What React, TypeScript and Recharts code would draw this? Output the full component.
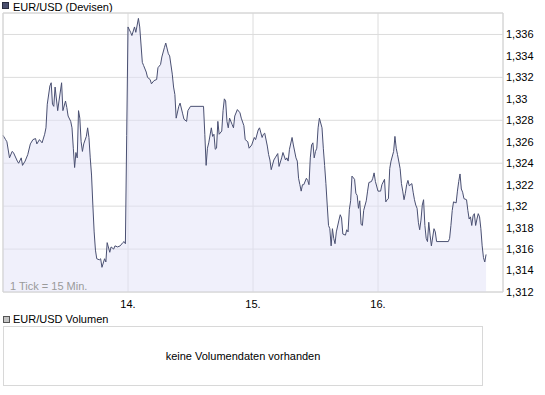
import { ComposedChart, Area, XAxis, YAxis, CartesianGrid, ReferenceArea } from 'recharts'

// [tick (1 tick = 15 min), price]
const day13: [number, number][] = [
  [0, 1.3266], [2, 1.3262], [3, 1.326], [5, 1.3245], [7, 1.3251], [8, 1.325], [11, 1.3242], [12, 1.324],
  [14, 1.3245], [15, 1.3238], [17, 1.3242], [19, 1.3248], [21, 1.3258], [23, 1.3262], [25, 1.3263], [26, 1.3258],
  [28, 1.3262], [30, 1.3259], [32, 1.3267], [33, 1.3273], [34, 1.3295], [36, 1.3312], [37, 1.3315], [38, 1.3295],
  [39, 1.3293], [40, 1.3311], [42, 1.3289], [43, 1.3298], [45, 1.3315], [46, 1.3289], [48, 1.3298], [49, 1.3292],
  [50, 1.3284], [52, 1.3279], [53, 1.3273], [54, 1.3254], [55, 1.3236], [56, 1.325], [57, 1.3245], [58, 1.3289],
  [59, 1.3282], [60, 1.326], [61, 1.3251], [62, 1.3258], [64, 1.3265], [65, 1.3273], [66, 1.3264], [67, 1.3245],
  [68, 1.3229], [69, 1.3201], [70, 1.3176], [71, 1.3159], [72, 1.3151], [74, 1.315], [75, 1.3151], [76, 1.3143],
  [78, 1.3151], [79, 1.3148], [80, 1.3166], [82, 1.3157], [83, 1.3162], [85, 1.316], [86, 1.3163], [88, 1.3162],
  [90, 1.3163], [92, 1.3166], [93, 1.3167], [94, 1.3165], [95, 1.3266],
]

const day14: [number, number][] = [
  [96, 1.3367], [98, 1.3362], [99, 1.3359], [101, 1.3367], [102, 1.3362], [104, 1.3375], [105, 1.3367], [107, 1.3334],
  [108, 1.3331], [110, 1.3325], [111, 1.332], [113, 1.3318], [114, 1.3314], [116, 1.3317], [118, 1.3318], [119, 1.3329],
  [121, 1.3332], [122, 1.3339], [124, 1.3348], [125, 1.3352], [127, 1.3342], [128, 1.334], [130, 1.3323], [131, 1.3311],
  [132, 1.3304], [133, 1.3282], [135, 1.3293], [136, 1.3296], [138, 1.3286], [139, 1.3281], [141, 1.3279], [142, 1.3289],
  [144, 1.3293], [154, 1.3293], [155, 1.3267], [156, 1.3238], [157, 1.3254], [158, 1.3259], [160, 1.3273], [161, 1.3265],
  [162, 1.3267], [163, 1.3253], [164, 1.3254], [165, 1.3279], [166, 1.3267], [168, 1.327], [169, 1.3289], [170, 1.33],
  [171, 1.3298], [172, 1.3279], [173, 1.3273], [174, 1.3282], [176, 1.3276], [177, 1.3273], [178, 1.3284], [180, 1.329],
  [182, 1.3287], [183, 1.3282], [185, 1.3275], [186, 1.3262], [188, 1.326], [189, 1.3254], [191, 1.3257],
]

const day15: [number, number][] = [
  [193, 1.3264], [194, 1.3262], [196, 1.3271], [197, 1.3273], [199, 1.3264], [200, 1.3267], [201, 1.3268], [203, 1.3256],
  [204, 1.3248], [205, 1.3243], [206, 1.3234], [208, 1.3243], [209, 1.3245], [211, 1.3249], [212, 1.3237], [214, 1.3245],
  [215, 1.325], [217, 1.3243], [218, 1.3245], [219, 1.3242], [220, 1.3253], [222, 1.3264], [223, 1.3257], [225, 1.3245],
  [226, 1.3242], [227, 1.3226], [228, 1.322], [229, 1.3214], [230, 1.322], [231, 1.322], [233, 1.3226], [234, 1.3224],
  [235, 1.322], [236, 1.3245], [237, 1.3257], [238, 1.3259], [239, 1.3245], [240, 1.3251], [241, 1.3254], [242, 1.3273],
  [243, 1.3282], [245, 1.3273], [246, 1.3254], [247, 1.3238], [248, 1.3221], [249, 1.3201], [250, 1.3182], [251, 1.3179],
  [252, 1.3163], [253, 1.3179], [254, 1.317], [255, 1.3165], [256, 1.3176], [258, 1.3187], [259, 1.3192], [260, 1.3189],
  [261, 1.3174], [263, 1.3173], [264, 1.3178], [265, 1.3176], [266, 1.3197], [267, 1.3205], [268, 1.3228], [270, 1.3225],
  [271, 1.3212], [272, 1.321], [273, 1.3198], [274, 1.3205], [275, 1.3183], [276, 1.3182], [277, 1.3196], [279, 1.3205],
  [280, 1.3214], [281, 1.3222], [283, 1.3223], [284, 1.3226], [285, 1.3231], [286, 1.3223],
]

const day16: [number, number][] = [
  [288, 1.3214], [290, 1.3214], [291, 1.322], [293, 1.3225], [294, 1.3204], [295, 1.3206], [296, 1.3207], [297, 1.3235],
  [298, 1.3242], [300, 1.3251], [301, 1.3265], [302, 1.3254], [303, 1.3248], [305, 1.3235], [306, 1.3221], [307, 1.3214],
  [308, 1.3206], [309, 1.3212], [310, 1.322], [311, 1.3224], [312, 1.3219], [314, 1.3221], [315, 1.3213], [316, 1.3206],
  [317, 1.3201], [318, 1.3198], [319, 1.3185], [320, 1.3178], [321, 1.3187], [322, 1.3201], [323, 1.3206], [324, 1.3182],
  [325, 1.317], [326, 1.3167], [327, 1.3185], [328, 1.3173], [329, 1.3163], [331, 1.3179], [332, 1.3176], [333, 1.3167],
  [342, 1.3167], [343, 1.317], [344, 1.3182], [345, 1.3196], [346, 1.3204], [348, 1.3203], [349, 1.3214], [350, 1.3223],
  [351, 1.323], [352, 1.3216], [353, 1.3213], [354, 1.3207], [356, 1.3206], [357, 1.3196], [358, 1.3188], [359, 1.319],
  [360, 1.3182], [361, 1.3191], [362, 1.3193], [363, 1.3182], [364, 1.3188], [365, 1.3193], [366, 1.319], [367, 1.3179],
  [368, 1.3163], [369, 1.3152], [370, 1.3148], [371, 1.3155],
]

const dayTicks = [96, 192, 288]
const dayLabels = ['14.', '15.', '16.']
const priceTicks = [1.312, 1.314, 1.316, 1.318, 1.32, 1.322, 1.324, 1.326, 1.328, 1.33, 1.332, 1.334, 1.336]

const data = [...day13, ...day14, ...day15, ...day16].map(([t, price]) => ({ t, price }))

const font = '"Liberation Sans", Arial, sans-serif'
const fmtPrice = (v: number) => String(+v.toFixed(3)).replace('.', ',')

export default function App() {
  return (
    <div style={{ position: 'absolute', left: 0, top: 0, width: 545, height: 395, background: '#fff', fontFamily: font, fontSize: 11, color: '#000' }}>
      <div style={{ position: 'absolute', left: 2, top: 2, width: 5, height: 5, background: '#4a4f6e', border: '1px solid #2a2d40' }} />
      <div style={{ position: 'absolute', left: 13, top: 0, lineHeight: '14px' }}>EUR/USD (Devisen)</div>

      <div style={{ position: 'absolute', left: 0, top: 0 }}>
        <ComposedChart width={545} height={312} data={data} margin={{ top: 13, right: 0, bottom: 0, left: 3 }}>
          <CartesianGrid stroke="#dcdcdc" ticks={undefined} />
          <XAxis
            dataKey="t"
            type="number"
            domain={[0, 384]}
            ticks={dayTicks}
            tickFormatter={(v: number) => dayLabels[dayTicks.indexOf(v)]}
            axisLine={false}
            tickLine={false}
            tickSize={0}
            tickMargin={8}
            height={20}
            tick={{ fill: '#000', fontSize: 11, fontFamily: font }}
          />
          <YAxis
            orientation="right"
            type="number"
            domain={[1.312, 1.338]}
            ticks={priceTicks}
            tickFormatter={fmtPrice}
            axisLine={false}
            tickLine={false}
            tickSize={0}
            tickMargin={3}
            width={42}
            tick={{ fill: '#000', fontSize: 11, fontFamily: font, textAnchor: 'start' }}
          />
          <Area
            type="linear"
            dataKey="price"
            stroke="#4a5072"
            strokeWidth={1}
            fill="#e2e2f8"
            fillOpacity={0.5}
            dot={false}
            activeDot={false}
            isAnimationActive={false}
          />
          <ReferenceArea x1={0} x2={384} y1={1.312} y2={1.338} fill="none" stroke="#d4d4d4" ifOverflow="visible" />
        </ComposedChart>
      </div>

      <div style={{ position: 'absolute', left: 10, top: 279, lineHeight: '14px', color: '#9a9a9a' }}>1 Tick = 15 Min.</div>

      <div style={{ position: 'absolute', left: 3, top: 316, width: 5, height: 5, background: '#c4c4c4', border: '1px solid #555' }} />
      <div style={{ position: 'absolute', left: 13, top: 312, lineHeight: '14px' }}>EUR/USD Volumen</div>
      <div
        style={{
          position: 'absolute', left: 3, top: 326, width: 478, height: 58, border: '1px solid #d8d8d8',
          display: 'flex', alignItems: 'center', justifyContent: 'center',
        }}
      >
        keine Volumendaten vorhanden
      </div>
    </div>
  )
}
